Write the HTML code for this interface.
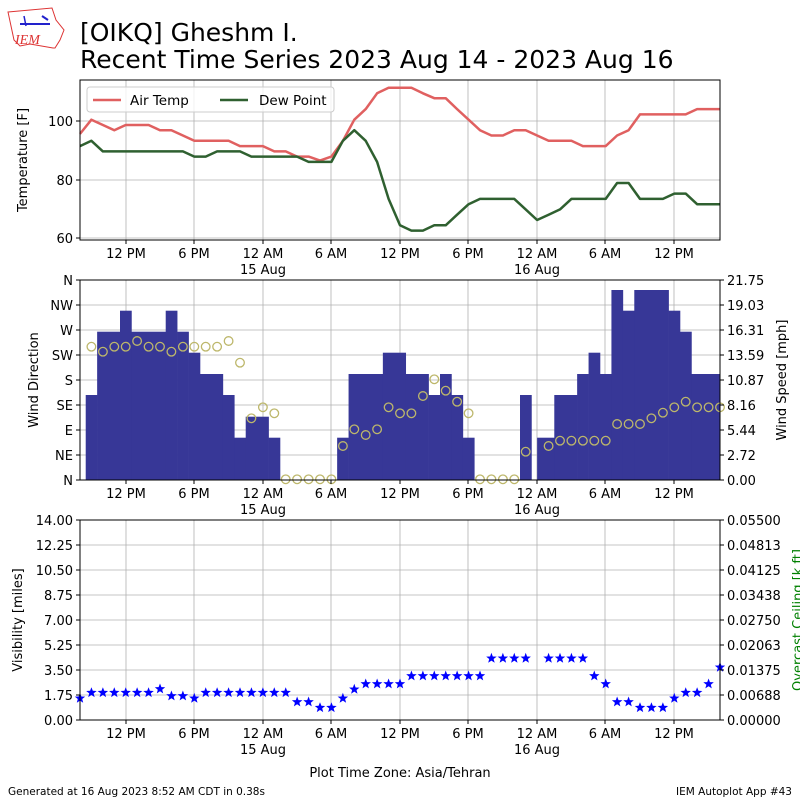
<!DOCTYPE html>
<html><head><meta charset="utf-8"><style>
body{margin:0;background:#fff}
svg{display:block;font-family:"DejaVu Sans","Liberation Sans",sans-serif}
</style></head><body>
<svg id="s" width="800" height="800" viewBox="0 0 800 800" xmlns="http://www.w3.org/2000/svg">
<rect width="800" height="800" fill="#fff"/>
<g>
<path d="M8,12 L52,8 L56,20 L64,30 L60,40 L55,48 L53,48 L30,44 L20,46 L14,40 Z" fill="none" stroke="#d33" stroke-width="1"/>
<line x1="20" y1="24" x2="50" y2="24" stroke="#22c" stroke-width="2"/>
<line x1="24" y1="16" x2="26" y2="26" stroke="#22c" stroke-width="1.5"/>
<line x1="42" y1="16" x2="48" y2="20" stroke="#22c" stroke-width="2"/>
<text x="15" y="44" font-family="Liberation Serif,serif" font-style="italic" font-size="14" fill="#d33">IEM</text>
</g>
<text x="80" y="41" font-size="25">[OIKQ] Gheshm I.</text>
<text x="80" y="68" font-size="25">Recent Time Series 2023 Aug 14 - 2023 Aug 16</text>
<g id="grid" stroke="#b0b0b0" stroke-width="0.8"></g>
<g id="bars" fill="#373797"></g>
<g id="lines"></g>
<g id="marks"></g>
<g id="legend">
<rect x="87" y="87" width="247" height="25" rx="3" fill="#fff" fill-opacity="0.8" stroke="#ccc"/>
<line x1="93" y1="100" x2="121" y2="100" stroke="#e06060" stroke-width="2.5"/>
<text x="130" y="105" font-size="13.5">Air Temp</text>
<line x1="220" y1="100" x2="248" y2="100" stroke="#2f6030" stroke-width="2.5"/>
<text x="259" y="105" font-size="13.5">Dew Point</text>
</g>
<g fill="none" stroke="#000" stroke-width="1">
<rect x="80" y="80" width="640" height="160"/>
<rect x="80" y="280" width="640" height="200"/>
<rect x="80" y="520" width="640" height="200"/>
</g>
<g id="ticks" font-size="13" fill="#000"></g>
<text transform="translate(27,160) rotate(-90)" text-anchor="middle" font-size="13">Temperature [F]</text>
<text transform="translate(38,380) rotate(-90)" text-anchor="middle" font-size="13">Wind Direction</text>
<text transform="translate(786,380) rotate(-90)" text-anchor="middle" font-size="13">Wind Speed [mph]</text>
<text transform="translate(22,620) rotate(-90)" text-anchor="middle" font-size="13">Visibility [miles]</text>
<text transform="translate(802,620) rotate(-90)" text-anchor="middle" font-size="13" fill="green">Overcast Ceiling [k ft]</text>
<text x="400" y="777" text-anchor="middle" font-size="13">Plot Time Zone: Asia/Tehran</text>
<text x="8" y="795" font-size="10.5">Generated at 16 Aug 2023 8:52 AM CDT in 0.38s</text>
<text x="792" y="795" text-anchor="end" font-size="10.5">IEM Autoplot App #43</text>
</svg>
<script>
var NS="http://www.w3.org/2000/svg";
function el(p,t,a,txt){var e=document.createElementNS(NS,t);for(var k in a)e.setAttribute(k,a[k]);if(txt!==undefined)e.textContent=txt;document.getElementById(p).appendChild(e);return e;}
var xt=[126,194,263,331,400,468,537,605,674],xl=["12 PM","6 PM","12 AM","6 AM","12 PM","6 PM","12 AM","6 AM","12 PM"];
var panels=[[80,240],[280,480],[520,720]];
panels.forEach(function(p){
 xt.forEach(function(x,i){
  el("grid","line",{x1:x,x2:x,y1:p[0],y2:p[1]});
  el("ticks","line",{x1:x,x2:x,y1:p[1],y2:p[1]+4,stroke:"#000"});
  el("ticks","text",{x:x,y:p[1]+18,"text-anchor":"middle"},xl[i]);
  if(i==2)el("ticks","text",{x:x,y:p[1]+34,"text-anchor":"middle"},"15 Aug");
  if(i==6)el("ticks","text",{x:x,y:p[1]+34,"text-anchor":"middle"},"16 Aug");
 });
});
[[238,"60"],[180,"80"],[121,"100"]].forEach(function(a){el("grid","line",{x1:80,x2:720,y1:a[0],y2:a[0]});el("ticks","line",{x1:76,x2:80,y1:a[0],y2:a[0],stroke:"#000"});el("ticks","text",{x:73,y:a[0]+5,"text-anchor":"end"},a[1]);});
var dl=["N","NE","E","SE","S","SW","W","NW","N"],sl=["0.00","2.72","5.44","8.16","10.87","13.59","16.31","19.03","21.75"];
var vl=["0.00","1.75","3.50","5.25","7.00","8.75","10.50","12.25","14.00"],cl=["0.00000","0.00688","0.01375","0.02063","0.02750","0.03438","0.04125","0.04813","0.05500"];
for(var i=0;i<9;i++){
 var y=480-25*i; el("grid","line",{x1:80,x2:720,y1:y,y2:y});
 el("ticks","line",{x1:76,x2:80,y1:y,y2:y,stroke:"#000"});el("ticks","line",{x1:720,x2:724,y1:y,y2:y,stroke:"#000"});
 el("ticks","text",{x:73,y:y+5,"text-anchor":"end"},dl[i]);el("ticks","text",{x:727,y:y+5},sl[i]);
 y=720-25*i; el("grid","line",{x1:80,x2:720,y1:y,y2:y});
 el("ticks","line",{x1:76,x2:80,y1:y,y2:y,stroke:"#000"});el("ticks","line",{x1:720,x2:724,y1:y,y2:y,stroke:"#000"});
 el("ticks","text",{x:73,y:y+5,"text-anchor":"end"},vl[i]);el("ticks","text",{x:727,y:y+5},cl[i]);
}
var SX=2.45;
function X(z){return 80+z/SX;}
var t=[160,117,133,149,133,133,133,149,149,165,181,181,181,181,197,197,197,213,213,229,229,241,229,181,117,85,37,20,20,20,37,52,52,85,117,149,165,165,149,149,165,181,181,181,197,197,197,165,149,101,101,101,101,101,85,85,85];
var d=[197,181,213,213,213,213,213,213,213,213,229,229,213,213,213,229,229,229,229,229,245,245,245,181,149,181,245,357,437,453,453,437,437,405,373,357,357,357,357,389,421,405,389,357,357,357,357,309,309,357,357,357,341,341,373,373,373];
function pl(a,c){var p=a.map(function(v,i){return X(i*28).toFixed(1)+","+(121+(v-121)/3.03).toFixed(1)}).join(" ");el("lines","polyline",{points:p,fill:"none",stroke:c,"stroke-width":2.5,"stroke-linejoin":"round"});}
pl(t,"#e06060");pl(d,"#2f6030");
var b=[[14,42,345],[42,98,155],[98,126,92],[126,210,155],[210,238,92],[238,266,155],[266,294,218],[294,350,282],[350,378,345],[378,406,473],[406,462,410],[462,490,473],[630,658,473],[658,742,282],[742,798,218],[798,854,282],[854,882,345],[882,910,282],[910,938,345],[938,966,473],[1078,1106,345],[1120,1162,473],[1162,1218,345],[1218,1246,282],[1246,1274,218],[1274,1302,282],[1302,1330,30],[1330,1358,92],[1358,1442,30],[1442,1470,92],[1470,1498,155],[1498,1568,282]];
b.forEach(function(r){var y=280+r[2]/3;el("bars","rect",{x:X(r[0]).toFixed(2),y:y.toFixed(1),width:((r[1]-r[0])/SX+0.3).toFixed(2),height:(480-y).toFixed(1)});});
var c=[[28,200],[56,215],[84,200],[112,200],[140,183],[168,200],[196,200],[224,215],[252,200],[280,200],[308,200],[336,200],[364,183],[392,248],[420,415],[448,382],[476,400],[504,598],[532,598],[560,598],[588,598],[616,598],[644,498],[672,448],[700,465],[728,448],[756,382],[784,400],[812,400],[840,348],[868,298],[896,332],[924,365],[952,400],[980,598],[1008,598],[1036,598],[1064,598],[1092,515],[1148,498],[1176,482],[1204,482],[1232,482],[1260,482],[1288,482],[1316,432],[1344,432],[1372,432],[1400,415],[1428,398],[1456,382],[1484,365],[1512,382],[1540,382],[1568,382]];
c.forEach(function(p){el("marks","circle",{cx:X(p[0]).toFixed(1),cy:(280+p[1]/3).toFixed(1),r:4.3,fill:"none",stroke:"#bdb76b","stroke-width":1.3});});
var s=[[0,175],[28,158],[56,158],[84,158],[112,158],[140,158],[168,158],[196,147],[224,168],[252,168],[280,175],[308,158],[336,158],[364,158],[392,158],[420,158],[448,158],[476,158],[504,158],[532,186],[560,186],[588,203],[616,203],[644,175],[672,148],[700,132],[728,132],[756,132],[784,132],[812,108],[840,108],[868,108],[896,108],[924,108],[952,108],[980,108],[1008,55],[1036,55],[1064,55],[1092,55],[1148,55],[1176,55],[1204,55],[1232,55],[1260,108],[1288,132],[1316,186],[1344,186],[1372,203],[1400,203],[1428,203],[1456,175],[1484,158],[1512,158],[1540,132],[1568,82]];
function star(cx,cy,R){var p=[];for(var k=0;k<10;k++){var r=k%2?R*0.42:R;var a=-Math.PI/2+k*Math.PI/5;p.push((cx+r*Math.cos(a)).toFixed(1)+","+(cy+r*Math.sin(a)).toFixed(1));}return p.join(" ");}
s.forEach(function(p){el("marks","polygon",{points:star(X(p[0]),640+p[1]/3,5.5),fill:"#00f"});});
</script>
</body></html>
